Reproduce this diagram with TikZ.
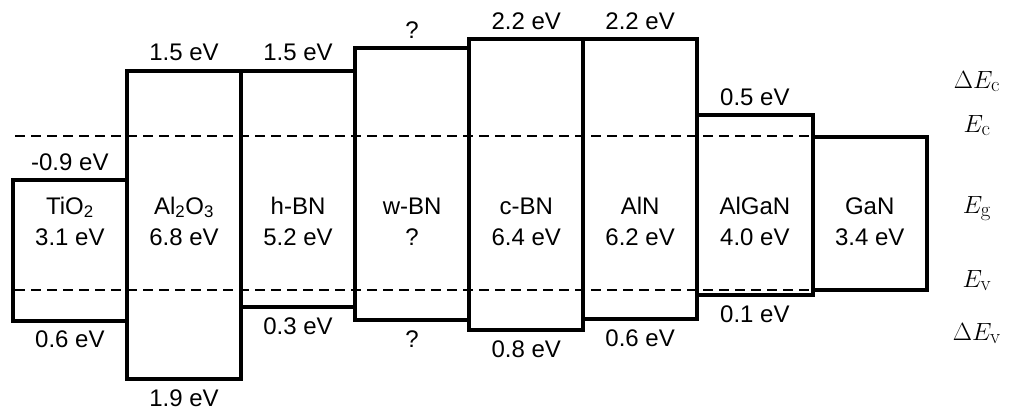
\documentclass[tikz,border=0pt]{standalone}
\usepackage[no-math]{fontspec}
\setmainfont{Liberation Sans}

% one band-alignment box: name, left, right, top (CB), bottom (VB),
% material, gap, CB offset, VB offset
\newcommand\bandbox[9]{%
  \draw[bandline] (#2,#4) rectangle (#3,#5);
  \node[val] (#1-name) at ({(#2+#3)/2},214) {#6};
  \node[val] (#1-gap)  at ({(#2+#3)/2},245) {#7};
  \node[val] (#1-cb)   at ({(#2+#3)/2},{#4-10}) {#8};
  \node[val] (#1-vb)   at ({(#2+#3)/2},{#5+27}) {#9};
}

\begin{document}
\begin{tikzpicture}[x=1pt,y=-1pt,
  bandline/.style={line width=4pt, line join=miter},
  level/.style={line width=2pt, dash pattern=on 10pt off 6pt},
  val/.style={font=\fontsize{24}{29}\selectfont, anchor=base, inner sep=0pt},
  sym/.style={font=\fontsize{24.88}{30}\selectfont, anchor=base, inner sep=0pt}]
\useasboundingbox (0,0) rectangle (1011,412);

% reference levels of the GaN conduction and valence band edges
\coordinate (ecL) at (15,136);
\coordinate (ecR) at (812,136);
\coordinate (evL) at (15,290);
\coordinate (evR) at (812,290);
\draw[level] (ecL) -- (ecR);
\draw[level] (evL) -- (evR);

\bandbox{tio}{12.7}{127}{180}{320.7}{TiO\textsubscript{2}}{3.1 eV}{-0.9 eV}{0.6 eV}
\bandbox{alo}{127}{241}{70.7}{379.3}{Al\textsubscript{2}O\textsubscript{3}}{6.8 eV}{1.5 eV}{1.9 eV}
\bandbox{hbn}{241}{355}{70.7}{307.3}{h-BN}{5.2 eV}{1.5 eV}{0.3 eV}
\bandbox{wbn}{355}{469.3}{48.3}{320}{w-BN}{?}{?}{?}
\bandbox{cbn}{469.3}{583.3}{39.3}{330}{c-BN}{6.4 eV}{2.2 eV}{0.8 eV}
\bandbox{aln}{583.3}{697}{39.3}{319.3}{AlN}{6.2 eV}{2.2 eV}{0.6 eV}
\bandbox{algan}{697}{812.7}{115}{295}{AlGaN}{4.0 eV}{0.5 eV}{0.1 eV}
\bandbox{gan}{812.7}{926.7}{136.7}{290}{GaN}{3.4 eV}{}{}

% legend of the rows
\node[sym] (dEc) at (977,88)  {$\Delta E_{\mathrm{c}}$};
\node[sym] (Ec)  at (977,132) {$E_{\mathrm{c}}$};
\node[sym] (Eg)  at (977,213) {$E_{\mathrm{g}}$};
\node[sym] (Ev)  at (977,287) {$E_{\mathrm{v}}$};
\node[sym] (dEv) at (977,340) {$\Delta E_{\mathrm{v}}$};
\end{tikzpicture}
\end{document}
